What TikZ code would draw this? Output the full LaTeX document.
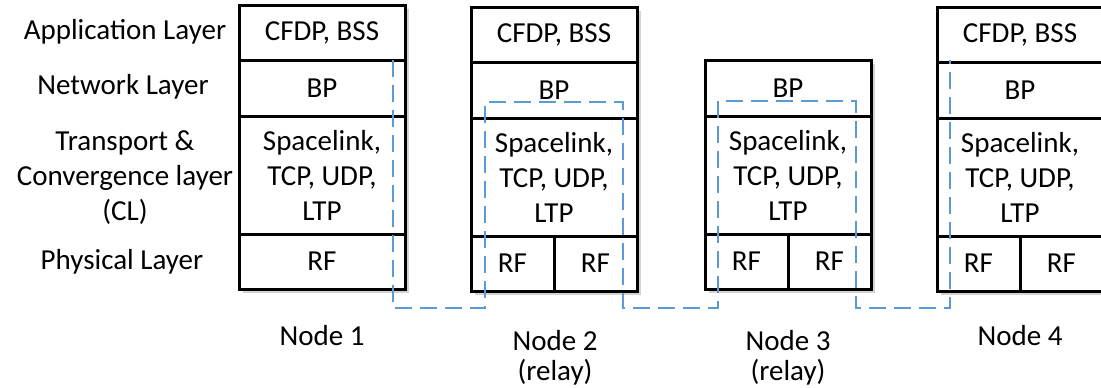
\documentclass[tikz,border=0pt]{standalone}
\usepackage{fontspec}
\setmainfont{Carlito}
\usetikzlibrary{shadows}

\definecolor{linkblue}{RGB}{91,155,213}

\begin{document}
\begin{tikzpicture}[x=0.5pt, y=-0.5pt,
  cell/.style={draw, line width=1.5pt, fill=white, anchor=north west,
    inner sep=0pt, outer sep=0pt, minimum width=83pt, align=center,
    font=\fontsize{14.5}{17.5}\selectfont,
    drop shadow={shadow xshift=2.2pt, shadow yshift=-2.2pt, opacity=0.35}},
  halfcell/.style={cell, minimum width=41.5pt},
  appcell/.style={cell, minimum height=27.5pt},
  netcell/.style={cell, minimum height=28pt},
  tlcell/.style={cell, minimum height=59pt},
  phycell/.style={cell, minimum height=27.5pt},
  halfphy/.style={halfcell, minimum height=27.5pt},
  layername/.style={align=center, font=\fontsize{14.5}{17.5}\selectfont},
  nodename/.style={align=center, font=\fontsize{14.5}{15}\selectfont},
  link/.style={draw=linkblue, line width=1pt, dash pattern=on 8.5pt off 4pt}
]

  % Fix the page to the size of the reference
  \useasboundingbox (0,0) rectangle (1101,387);

  % Layer names on the left
  \node[layername] (lblapp) at (125,32) {Application Layer};
  \node[layername] (lblnet) at (123,87) {Network Layer};
  \node[layername] (lbltl) at (125,178) {Transport \&\\Convergence layer\\(CL)};
  \node[layername] (lblphy) at (122,262) {Physical Layer};

  % Node 1
  \node[appcell] (n1app) at (239,5) {CFDP, BSS};
  \node[netcell] (n1net) at (239,60) {BP};
  \node[tlcell] (n1tl) at (239,116) {Spacelink,\\TCP, UDP,\\LTP};
  \node[phycell] (n1phy) at (239,234) {RF};

  % Node 2 (relay)
  \node[appcell] (n2app) at (471,7) {CFDP, BSS};
  \node[netcell] (n2net) at (471,62) {BP};
  \node[tlcell] (n2tl) at (471,118) {Spacelink,\\TCP, UDP,\\LTP};
  \node[halfphy] (n2phyA) at (471,236) {RF};
  \node[halfphy] (n2phyB) at (554,236) {RF};

  % Node 3 (relay), no application layer
  \node[netcell] (n3net) at (705,60) {BP};
  \node[tlcell] (n3tl) at (705,116) {Spacelink,\\TCP, UDP,\\LTP};
  \node[halfphy] (n3phyA) at (705,234) {RF};
  \node[halfphy] (n3phyB) at (788,234) {RF};

  % Node 4
  \node[appcell] (n4app) at (937,7) {CFDP, BSS};
  \node[netcell] (n4net) at (937,62) {BP};
  \node[tlcell] (n4tl) at (937,118) {Spacelink,\\TCP, UDP,\\LTP};
  \node[halfphy] (n4phyA) at (937,236) {RF};
  \node[halfphy] (n4phyB) at (1020,236) {RF};

  % Names under the stacks
  \node[nodename] (t1) at (322,336) {Node 1};
  \node[nodename] (t2) at (555,358) {Node 2\\(relay)};
  \node[nodename] (t3) at (788,358) {Node 3\\(relay)};
  \node[nodename] (t4) at (1020,336) {Node 4};

  % Path of the data through the stacks
  \coordinate (p1) at (393,60);
  \coordinate (p2) at (393,308);
  \coordinate (p3) at (485,308);
  \coordinate (p4) at (485,102);
  \coordinate (p5) at (623,102);
  \coordinate (p6) at (623,308);
  \coordinate (p7) at (718,308);
  \coordinate (p8) at (718,101);
  \coordinate (p9) at (856,101);
  \coordinate (p10) at (856,308);
  \coordinate (p11) at (950,308);
  \coordinate (p12) at (950,60);
  \draw[link] (p1) -- (p2) -- (p3) -- (p4) -- (p5) -- (p6) -- (p7)
    -- (p8) -- (p9) -- (p10) -- (p11) -- (p12);

\end{tikzpicture}
\end{document}
